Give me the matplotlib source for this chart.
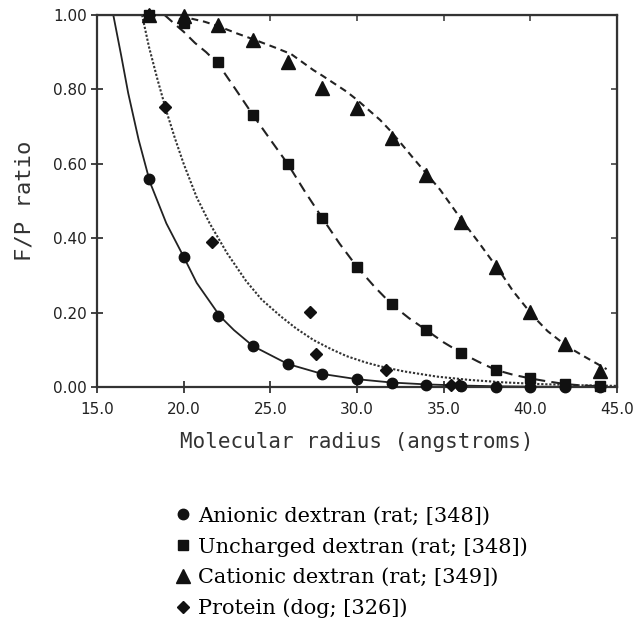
import matplotlib
matplotlib.use("Agg")
import matplotlib.pyplot as plt

plt.rcParams['lines.scale_dashes'] = False

# measured points
radius = [18, 20, 22, 24, 26, 28, 30, 32, 34, 36, 38, 40, 42, 44]
anionic = [0.56, 0.35, 0.19, 0.11, 0.061, 0.034, 0.021, 0.01, 0.005, 0.003, 0.001, 0.0, 0.0, 0.0]
uncharged = [1.0, 0.978, 0.873, 0.731, 0.60, 0.454, 0.323, 0.222, 0.153, 0.092, 0.046, 0.023, 0.008, 0.003]
cationic = [1.0, 0.997, 0.973, 0.933, 0.874, 0.803, 0.749, 0.669, 0.57, 0.444, 0.323, 0.202, 0.116, 0.043]
protein_r = [18.0, 18.9, 21.65, 27.3, 27.65, 31.7, 35.4, 35.9]
protein = [1.0, 0.752, 0.391, 0.202, 0.09, 0.046, 0.005, 0.005]

# fitted curves
anionic_fit_r = [15.94, 16.4, 16.8, 17.4, 18.06, 19, 20, 20.75, 22.1, 22.9, 24, 26, 28, 30, 32, 34, 36, 38, 40, 42, 45]
anionic_fit = [1.0, 0.89, 0.79, 0.665, 0.55, 0.44, 0.35, 0.28, 0.19, 0.153, 0.11, 0.062, 0.035, 0.021, 0.012, 0.007, 0.004, 0.002, 0.001, 0.0005, 0.0]
protein_fit_r = [17.6, 18.0, 18.5, 19.0, 19.5, 20.0, 20.75, 21.5, 22.5, 23.6, 24.5, 25.6, 26.5, 27.5, 28.5, 29.4, 30.5, 31.3, 32.7, 34.6, 36.5, 38.4, 40.5, 42.5, 45.0]
protein_fit = [1.0, 0.914, 0.825, 0.742, 0.668, 0.60, 0.51, 0.44, 0.36, 0.285, 0.235, 0.19, 0.157, 0.126, 0.102, 0.083, 0.066, 0.056, 0.042, 0.028, 0.019, 0.0126, 0.008, 0.005, 0.003]
uncharged_fit_r = [18.9, 19.5, 20.0, 20.65, 21.3, 22.0, 23, 24, 25, 26, 27, 28, 29, 30, 31, 32, 33, 34, 35, 36, 37, 38, 39, 40, 41, 42, 43, 44]
uncharged_fit = [1.0, 0.975, 0.955, 0.925, 0.90, 0.868, 0.80, 0.731, 0.665, 0.60, 0.525, 0.454, 0.385, 0.323, 0.27, 0.222, 0.185, 0.153, 0.12, 0.092, 0.068, 0.046, 0.033, 0.023, 0.015, 0.008, 0.004, 0.002]
cationic_fit_r = [19.8, 20.46, 21.2, 22, 23.1, 24, 25.3, 26.2, 27.48, 28, 29.4, 30, 31.33, 32, 33.25, 34, 34.8, 36.04, 37, 38.25, 39, 40.17, 41, 42.1, 43, 44.4]
cationic_fit = [1.0, 0.99, 0.982, 0.97, 0.95, 0.935, 0.912, 0.895, 0.852, 0.837, 0.794, 0.772, 0.718, 0.685, 0.615, 0.574, 0.53, 0.449, 0.39, 0.31, 0.258, 0.19, 0.15, 0.11, 0.085, 0.048]

labels = ["Anionic dextran (rat; [348])", "Uncharged dextran (rat; [348])",
          "Cationic dextran (rat; [349])", "Protein (dog; [326])"]

fig = plt.figure(figsize=(6.37, 6.28), dpi=100)
ax = fig.add_axes([97/637, 1-387/628, 520/637, 372/628])

ax.plot(anionic_fit_r, anionic_fit, '-', color='#222222', lw=1.3)
ax.plot(protein_fit_r, protein_fit, color='#333333', lw=1.5, dashes=(1.6, 1.3))
ax.plot(uncharged_fit_r, uncharged_fit, color='#222222', lw=1.5, dashes=(7.5, 4.5))
ax.plot(cationic_fit_r, cationic_fit, color='#222222', lw=1.5, dashes=(5, 3.5))

h1, = ax.plot(radius, anionic, 'o', color='#111111', ms=7.5, ls='none', clip_on=False, zorder=5)
h2, = ax.plot(radius, uncharged, 's', color='#111111', ms=7, ls='none', clip_on=False, zorder=5)
h3, = ax.plot(radius, cationic, '^', color='#111111', ms=9.5, ls='none', clip_on=False, zorder=6)
h4, = ax.plot(protein_r, protein, 'D', color='#111111', ms=6.5, ls='none', clip_on=False, zorder=5)

ax.set_xlim(15, 45)
ax.set_ylim(0, 1.0)
ax.set_xticks([15, 20, 25, 30, 35, 40, 45])
ax.set_xticklabels(["15.0", "20.0", "25.0", "30.0", "35.0", "40.0", "45.0"])
ax.set_yticks([0, 0.2, 0.4, 0.6, 0.8, 1.0])
ax.set_yticklabels(["0.00", "0.20", "0.40", "0.60", "0.80", "1.00"])
ax.tick_params(axis='both', direction='inout', length=9, width=1.2, labelsize=11, colors='#222222')
ax.tick_params(axis='x', pad=6)
ax.tick_params(axis='y', pad=3)
ax.secondary_xaxis('top').tick_params(direction='in', length=4, width=1.1, labeltop=False, colors='#333333')
ax.secondary_yaxis('right').tick_params(direction='in', length=4, width=1.1, labelright=False, colors='#333333')
for s in ax.spines.values():
    s.set_linewidth(1.6)
    s.set_color('#333333')

ax.set_xlabel("Molecular radius (angstroms)", family='DejaVu Sans Mono', fontsize=15, color='#333333', labelpad=11)
ax.set_ylabel("F/P ratio", family='DejaVu Sans Mono', fontsize=16, color='#333333', labelpad=13)

ax.legend([h1, h2, h3, h4], labels, loc='upper left', bbox_to_anchor=(165/637, 1-496/628),
          bbox_transform=fig.transFigure, frameon=False, borderpad=0, handlelength=0.7,
          handletextpad=0.4, labelspacing=0.55, prop={'family': 'DejaVu Serif', 'size': 15})

fig.savefig("out.png", dpi=100)
